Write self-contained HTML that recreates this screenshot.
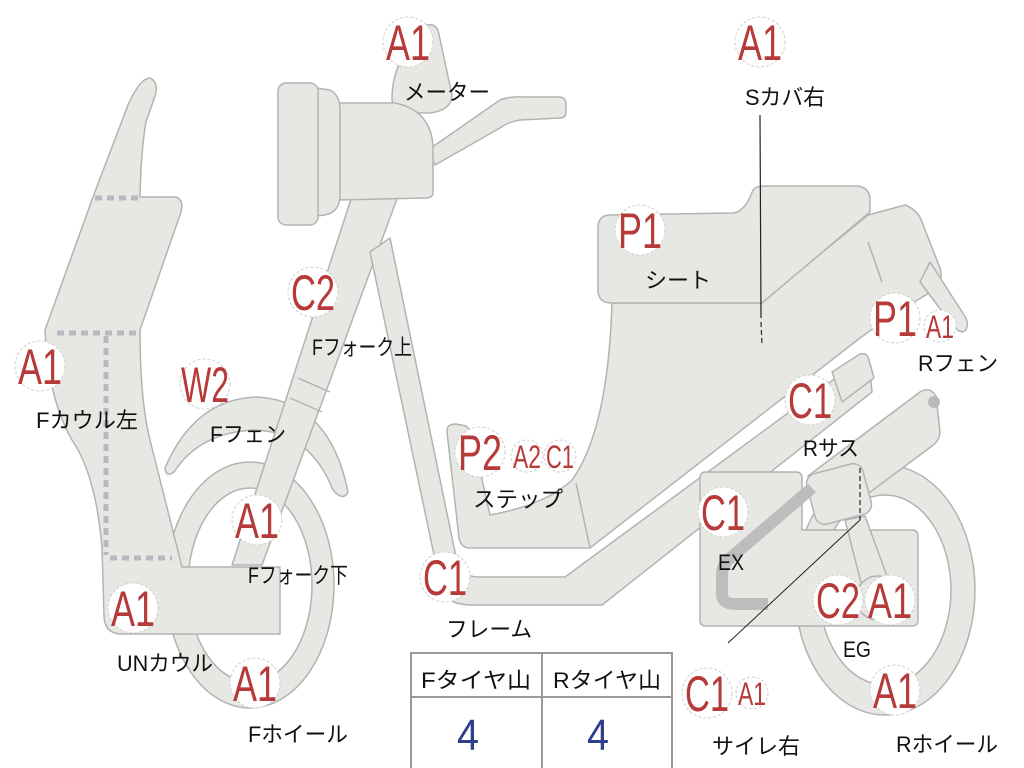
<!DOCTYPE html>
<html><head><meta charset="utf-8"><style>
html,body{margin:0;padding:0;background:#fff;}
svg{display:block}
.p{fill:#e7e7e3;stroke:#b3b3b3;stroke-width:1.5;stroke-linejoin:round}
.b{fill:#fff;stroke:#cfcfcf;stroke-width:1;stroke-dasharray:3 2}
.r{fill:#b63a3a;font-family:"Liberation Sans",sans-serif;}
.t{fill:#111;font-family:"Liberation Sans","Noto Sans CJK JP",sans-serif;font-size:22px}
.d{stroke:#b8b8c0;stroke-width:5;stroke-dasharray:7 5;fill:none}
</style></head><body>
<svg width="1024" height="768" viewBox="0 0 1024 768" xmlns="http://www.w3.org/2000/svg">
<!-- front fender -->
<path class="p" d="M165,468 Q195,398 258,397 Q330,402 348,492 Q343,502 333,490 Q310,432 255,430 Q200,432 174,472 Q166,478 165,468 Z"/>
<!-- front wheel -->
<path class="p" fill-rule="evenodd" d="M166,585 a84,123 0 1,0 168,0 a84,123 0 1,0 -168,0 Z M188,585 a62,97 0 1,0 124,0 a62,97 0 1,0 -124,0 Z"/>
<!-- fork -->
<path class="p" d="M352,196 L398,196 L262,565 L232,565 Z"/>
<line x1="298" y1="378" x2="330" y2="392" stroke="#b3b3b3" stroke-width="1.5"/>
<line x1="290" y1="398" x2="322" y2="412" stroke="#b3b3b3" stroke-width="1.5"/>
<!-- frame tube -->
<path class="p" d="M370,252 L390,238 L455,552 Q460,577 478,577 L565,577 L852,366 Q866,358 870,372 L872,392 L602,605 L472,605 Q446,605 441,588 Z"/>
<!-- handlebar -->
<path class="p" d="M428,150 L500,100 Q510,96 525,97 L560,97 Q566,98 566,104 L566,112 Q566,118 560,118 L520,120 Q508,122 500,128 L435,165 Z"/>
<!-- meter -->
<path class="p" d="M392,98 Q392,70 410,45 L425,26 Q433,22 438,30 L452,95 Q452,110 430,113 L410,113 Q392,112 392,98 Z"/>
<!-- headlight -->
<path class="p" d="M338,103 L395,103 Q430,110 433,145 L433,192 Q433,198 426,198 L338,200 Z"/>
<path class="p" d="M316,88 L330,90 Q340,95 340,110 L340,195 Q340,212 325,215 L316,216 Z"/>
<rect class="p" x="278" y="83" width="40" height="142" rx="8"/>
<!-- front cowl -->
<path class="p" d="M45,330 L93,197 L128,105 Q140,78 150,78 Q159,82 155,96 L146,122 Q141,150 140,197 L176,197 Q184,200 181,212 L140,330 Q140,400 150,440 L182,567 L280,567 L280,634 L122,634 Q104,634 104,615 L102,548 Q96,475 72,440 Q48,398 45,330 Z"/>
<path class="d" d="M95,198 H140 M57,333 H140 M106,336 V555 M110,558 H172"/>
<!-- rear wheel -->
<path class="p" fill-rule="evenodd" d="M795,590 a90,125 0 1,0 180,0 a90,125 0 1,0 -180,0 Z M819,590 a66,95 0 1,0 132,0 a66,95 0 1,0 -132,0 Z"/>
<!-- body -->
<path class="p" d="M447,432 Q446,424 456,424 L466,426 Q471,430 473,440 L490,515 Q545,505 572,480 Q608,430 612,303 L760,303 L868,215 L905,205 Q918,210 922,222 L940,268 Q944,282 934,290 L888,318 L860,338 L590,548 L470,548 Q461,548 459,538 Z"/>
<path d="M576,483 L590,548" stroke="#b3b3b3" stroke-width="1.5"/>
<!-- rear fender tip -->
<path class="p" d="M930,262 L966,318 Q970,330 962,332 Q955,330 950,322 L920,282 Z"/>
<path d="M868,242 L882,282" stroke="#b3b3b3" stroke-width="1.5"/>
<!-- seat -->
<path class="p" d="M610,215 L733,213 Q745,212 753,190 Q756,186 765,186 L858,186 Q870,188 870,200 L870,212 L762,303 L612,303 Q598,303 598,290 L598,228 Q598,215 610,215 Z"/>
<!-- engine -->
<path class="p" d="M700,478 Q700,472 706,472 L796,472 Q802,472 802,478 L802,530 L912,530 Q918,530 918,536 L918,620 Q918,626 912,626 L706,626 Q700,626 700,620 Z"/>
<path class="p" d="M845,520 L865,516 L895,598 L868,610 Z"/>
<circle class="p" cx="878" cy="598" r="22"/>
<!-- rear shock -->
<path class="p" d="M832,372 L860,354 Q867,352 869,360 L874,378 L842,402 Z"/>
<!-- big bar -->
<path class="p" d="M808,476 L920,392 Q930,386 936,396 L940,432 Q940,440 932,446 L830,522 Z"/>
<circle cx="934" cy="402" r="6" fill="#b9b9b9"/>
<rect class="p" x="810" y="468" width="58" height="52" rx="10" transform="rotate(-15 839 494)"/>
<!-- exhaust -->
<path d="M812,488 L728,560 Q722,566 722,576 L722,594 Q722,604 735,604 L768,604" stroke="#bdbdbd" stroke-width="12" fill="none"/>
<!-- leader lines -->
<path d="M760,115 L761,318" stroke="#222" stroke-width="1.2"/>
<path d="M761,322 L762,345" stroke="#222" stroke-width="1.2" stroke-dasharray="5 3"/>
<path d="M860,468 L860,520" stroke="#222" stroke-width="1.2" stroke-dasharray="5 3"/>
<path d="M860,520 L728,643" stroke="#222" stroke-width="1"/>
<!-- table -->
<rect x="411" y="653" width="261" height="118" fill="#fff" stroke="#999" stroke-width="2"/>
<line x1="411" y1="697" x2="672" y2="697" stroke="#999" stroke-width="2"/>
<line x1="542" y1="653" x2="542" y2="768" stroke="#999" stroke-width="2"/>
<text class="t" x="421" y="688" textLength="110" lengthAdjust="spacingAndGlyphs">Fタイヤ山</text>
<text class="t" x="553" y="688" textLength="108" lengthAdjust="spacingAndGlyphs">Rタイヤ山</text>
<text x="468" y="750" font-family="Liberation Sans,sans-serif" font-size="44" fill="#2d3f8f" text-anchor="middle" textLength="22" lengthAdjust="spacingAndGlyphs">4</text>
<text x="598" y="750" font-family="Liberation Sans,sans-serif" font-size="44" fill="#2d3f8f" text-anchor="middle" textLength="22" lengthAdjust="spacingAndGlyphs">4</text>
<!-- badges big -->
<g>
<circle class="b" cx="408" cy="42" r="25"/><text class="r" x="408" y="60" font-size="50" text-anchor="middle" textLength="44" lengthAdjust="spacingAndGlyphs">A1</text>
<circle class="b" cx="760" cy="42" r="25"/><text class="r" x="760" y="60" font-size="50" text-anchor="middle" textLength="44" lengthAdjust="spacingAndGlyphs">A1</text>
<circle class="b" cx="640" cy="230" r="25"/><text class="r" x="640" y="248" font-size="50" text-anchor="middle" textLength="44" lengthAdjust="spacingAndGlyphs">P1</text>
<circle class="b" cx="313" cy="292" r="25"/><text class="r" x="313" y="310" font-size="50" text-anchor="middle" textLength="44" lengthAdjust="spacingAndGlyphs">C2</text>
<circle class="b" cx="40" cy="366" r="25"/><text class="r" x="40" y="384" font-size="50" text-anchor="middle" textLength="44" lengthAdjust="spacingAndGlyphs">A1</text>
<circle class="b" cx="205" cy="384" r="25"/><text class="r" x="205" y="402" font-size="50" text-anchor="middle" textLength="48" lengthAdjust="spacingAndGlyphs">W2</text>
<circle class="b" cx="480" cy="452" r="25"/><text class="r" x="480" y="470" font-size="50" text-anchor="middle" textLength="44" lengthAdjust="spacingAndGlyphs">P2</text>
<circle class="b" cx="527" cy="456" r="16"/><text class="r" x="527" y="468" font-size="32" text-anchor="middle" textLength="28" lengthAdjust="spacingAndGlyphs">A2</text>
<circle class="b" cx="560" cy="456" r="16"/><text class="r" x="560" y="468" font-size="32" text-anchor="middle" textLength="28" lengthAdjust="spacingAndGlyphs">C1</text>
<circle class="b" cx="257" cy="520" r="25"/><text class="r" x="257" y="538" font-size="50" text-anchor="middle" textLength="44" lengthAdjust="spacingAndGlyphs">A1</text>
<circle class="b" cx="445" cy="577" r="25"/><text class="r" x="445" y="595" font-size="50" text-anchor="middle" textLength="44" lengthAdjust="spacingAndGlyphs">C1</text>
<circle class="b" cx="133" cy="608" r="25"/><text class="r" x="133" y="626" font-size="50" text-anchor="middle" textLength="44" lengthAdjust="spacingAndGlyphs">A1</text>
<circle class="b" cx="255" cy="683" r="25"/><text class="r" x="255" y="701" font-size="50" text-anchor="middle" textLength="44" lengthAdjust="spacingAndGlyphs">A1</text>
<circle class="b" cx="895" cy="318" r="25"/><text class="r" x="895" y="336" font-size="50" text-anchor="middle" textLength="44" lengthAdjust="spacingAndGlyphs">P1</text>
<circle class="b" cx="940" cy="326" r="16"/><text class="r" x="940" y="338" font-size="32" text-anchor="middle" textLength="28" lengthAdjust="spacingAndGlyphs">A1</text>
<circle class="b" cx="810" cy="400" r="25"/><text class="r" x="810" y="418" font-size="50" text-anchor="middle" textLength="44" lengthAdjust="spacingAndGlyphs">C1</text>
<circle class="b" cx="723" cy="512" r="25"/><text class="r" x="723" y="530" font-size="50" text-anchor="middle" textLength="44" lengthAdjust="spacingAndGlyphs">C1</text>
<circle class="b" cx="838" cy="600" r="25"/><text class="r" x="838" y="618" font-size="50" text-anchor="middle" textLength="44" lengthAdjust="spacingAndGlyphs">C2</text>
<circle class="b" cx="890" cy="600" r="25"/><text class="r" x="890" y="618" font-size="50" text-anchor="middle" textLength="44" lengthAdjust="spacingAndGlyphs">A1</text>
<circle class="b" cx="707" cy="693" r="25"/><text class="r" x="707" y="711" font-size="50" text-anchor="middle" textLength="44" lengthAdjust="spacingAndGlyphs">C1</text>
<circle class="b" cx="752" cy="693" r="16"/><text class="r" x="752" y="705" font-size="32" text-anchor="middle" textLength="28" lengthAdjust="spacingAndGlyphs">A1</text>
<circle class="b" cx="895" cy="690" r="25"/><text class="r" x="895" y="708" font-size="50" text-anchor="middle" textLength="44" lengthAdjust="spacingAndGlyphs">A1</text>
</g>
<!-- labels -->
<text class="t" x="404" y="100" textLength="86" lengthAdjust="spacingAndGlyphs">メーター</text>
<text class="t" x="745" y="105" textLength="80" lengthAdjust="spacingAndGlyphs">Sカバ右</text>
<text class="t" x="645" y="288" textLength="66" lengthAdjust="spacingAndGlyphs">シート</text>
<text class="t" x="312" y="355" textLength="100" lengthAdjust="spacingAndGlyphs">Fフォーク上</text>
<text class="t" x="36" y="428" textLength="102" lengthAdjust="spacingAndGlyphs">Fカウル左</text>
<text class="t" x="210" y="442" textLength="76" lengthAdjust="spacingAndGlyphs">Fフェン</text>
<text class="t" x="473" y="507" textLength="90" lengthAdjust="spacingAndGlyphs">ステップ</text>
<text class="t" x="248" y="583" textLength="100" lengthAdjust="spacingAndGlyphs">Fフォーク下</text>
<text class="t" x="446" y="637" textLength="86" lengthAdjust="spacingAndGlyphs">フレーム</text>
<text class="t" x="117" y="671" textLength="96" lengthAdjust="spacingAndGlyphs">UNカウル</text>
<text class="t" x="248" y="742" textLength="100" lengthAdjust="spacingAndGlyphs">Fホイール</text>
<text class="t" x="918" y="371" textLength="80" lengthAdjust="spacingAndGlyphs">Rフェン</text>
<text class="t" x="803" y="456" textLength="56" lengthAdjust="spacingAndGlyphs">Rサス</text>
<text class="t" x="718" y="570" textLength="26" lengthAdjust="spacingAndGlyphs">EX</text>
<text class="t" x="843" y="657" textLength="28" lengthAdjust="spacingAndGlyphs">EG</text>
<text class="t" x="712" y="754" textLength="88" lengthAdjust="spacingAndGlyphs">サイレ右</text>
<text class="t" x="896" y="752" textLength="102" lengthAdjust="spacingAndGlyphs">Rホイール</text>
</svg>
</body></html>
